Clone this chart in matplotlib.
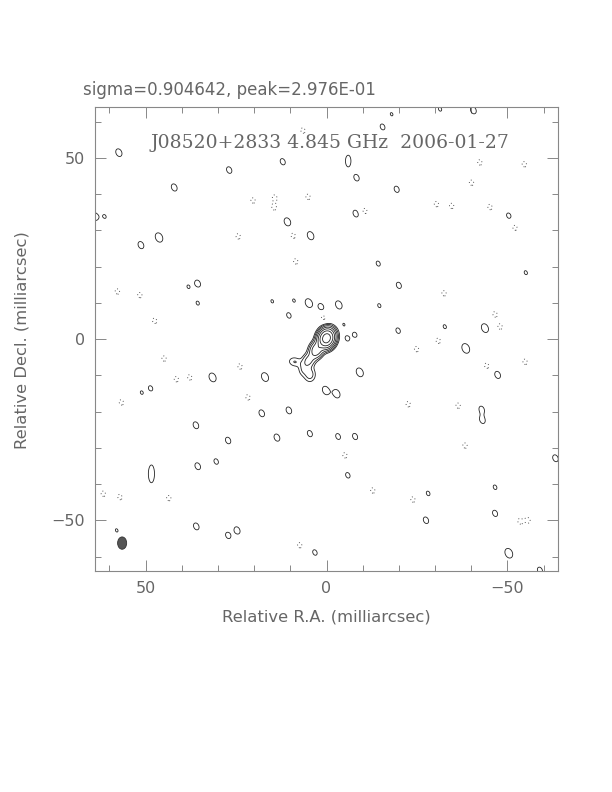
import numpy as np
import matplotlib
matplotlib.use("Agg")
import matplotlib.pyplot as plt
from matplotlib.patches import Ellipse
from matplotlib.ticker import MultipleLocator

# ---------------- data (mas, Jy/beam) ----------------
title_text = "sigma=0.904642, peak=2.976E-01"
map_label = "J08520+2833 4.845 GHz  2006-01-27"
xlabel = "Relative R.A. (milliarcsec)"
ylabel = "Relative Decl. (milliarcsec)"
peak = 0.2976
lowest_level = 0.0027
level_factors = [1, 2, 4, 8, 16, 32, 64]

# source model components: x, y, amplitude, sigma major, sigma minor, PA (deg)
src_x = [0.0, 2.8, 5.0, 8.8, 4.6, 6.5]
src_y = [0.2, -3.0, -6.0, -6.3, -9.8, -8.5]
src_amp = [0.262, 0.038, 0.014, 0.0055, 0.0075, 0.0045]
src_smaj = [1.4, 1.35, 1.35, 1.2, 1.35, 1.2]
src_smin = [1.15, 1.05, 1.05, 0.9, 1.05, 0.9]
src_pa = [-20, -20, -30, 80, 0, 0]

# positive noise peaks
pos_x = [57.4, 26.9, 42.1, 46.3, 51.3, 64.0, 61.3, 12.1, -8.3, -15.5, -19.4, -18.0,
         10.8, 4.4, -8.1, -14.3, -40.6, -31.4, -50.4, 35.6, 35.6, 31.5, 48.6, 51.1, 36.1,
         38.2, -43.8, -38.5, -47.3, -42.9, -43.1, -32.7, -55.1, 27.2, 35.6, 30.5,
         36.0, 27.2, 24.7, 58.0, 4.9, 1.5, -3.4, 10.4, -4.8, -5.7, -7.9, -14.6, -9.2,
         17.0, 0.2, -2.8, -50.4, 15.0, 9.0, 17.9, 13.7, 10.4, 4.6, -3.2, -7.9, -5.9,
         3.2, -28.1, -27.5, -46.6, -46.6, -63.3, -59.0, -20.0, -19.8]
pos_y = [51.4, 46.6, 41.8, 28.0, 25.9, 33.8, 33.8, 48.9, 44.5, 58.5, 41.3, 62.0,
         32.3, 28.5, 34.6, 20.8, 63.1, 63.4, 34.0, 15.3, 9.9, -10.6, -13.6, -14.8, -23.8,
         14.4, 3.0, -2.6, -9.9, -19.4, -22.4, 3.4, 18.3, -28.0, -35.1, -33.8,
         -51.7, -54.2, -52.8, -52.8, 9.9, 8.8, 9.4, 6.5, 4.0, 0.1, 1.2, 9.2, -9.2,
         -10.5, -14.2, -15.1, -59.1, 10.4, 10.6, -20.5, -27.2, -19.7, -26.1, -26.9, -26.9, -37.6,
         -58.9, -42.6, -50.0, -40.9, -48.1, -32.9, -63.8, 14.8, 2.3]
pos_amp = [0.0040, 0.0036, 0.0038, 0.0048, 0.0038, 0.0040, 0.0029, 0.0035, 0.0036,
           0.0034, 0.0035, 0.0029, 0.0042, 0.0042, 0.0037, 0.0032, 0.0038, 0.0030, 0.0033,
           0.0037, 0.0030, 0.0045, 0.0032, 0.0029, 0.0037, 0.0029, 0.0045, 0.0050, 0.0038,
           0.0035, 0.0036, 0.0030, 0.0030, 0.0036, 0.0037, 0.0033, 0.0037, 0.0035,
           0.0038, 0.0029, 0.0045, 0.0038, 0.0042, 0.0033, 0.0028, 0.0031, 0.0031, 0.0030,
           0.0045, 0.0045, 0.0043, 0.0043, 0.0050, 0.0029, 0.0029, 0.0037, 0.0038, 0.0037,
           0.0035, 0.0034, 0.0035, 0.0033, 0.0033, 0.0031, 0.0036, 0.0031, 0.0035, 0.0037,
           0.0035, 0.0035, 0.0033]
# elongated positive features: x, y, amplitude, sigma major, sigma minor, PA
long_x = [48.4, -6.0]
long_y = [-37.2, 49.1]
long_amp = [0.0042, 0.0042]
long_smaj = [2.6, 1.7]
long_smin = [0.9, 0.8]
long_pa = [0, 0]

# negative noise peaks
neg_x = [24.4, 14.3, 14.5, 9.2, 5.1, -10.6, 8.5, 20.3, 6.5, -42.4, -40.1, -30.4, -34.6,
         -45.2, -52.1, -54.7, 51.6, 47.5, 44.9, 41.5, 37.8, 56.7, 23.9, 21.7, 57.8, -32.5,
         -46.6, -48.0, -44.3, -54.9, -36.4, -22.6, 57.1, 43.6, 0.9, 7.4, -5.1, -12.8,
         -23.9, -53.5, -55.7, -38.3, -30.9, -24.9, 61.7]
neg_y = [28.3, 39.0, 36.3, 28.5, 39.2, 35.3, 21.4, 38.2, 57.5, 48.7, 43.1, 37.2, 36.7,
         36.4, 30.7, 48.2, 12.1, 5.0, -5.4, -11.1, -10.6, -17.5, -7.6, -16.1, 13.1, 12.6,
         6.8, 3.4, -7.4, -6.3, -18.4, -18.0, -43.6, -43.9, 6.0, -56.9, -32.1, -41.8,
         -44.3, -50.3, -50.0, -29.4, -0.5, -2.8, -42.7]
neg_amp = -0.0034

# restoring beam (FWHM, mas) and position of its drawing
beam_w, beam_h, beam_pa = 2.5, 3.4, 0
beam_x, beam_y = 56.5, -56.3

# ---------------- build the map ----------------
xs = np.arange(-66, 66.001, 0.125)
X, Y = np.meshgrid(xs, xs)
Z = np.zeros_like(X)


def add_gauss(Z, x0, y0, amp, smaj, smin, pa):
    t = np.radians(pa)
    dx = X - x0
    dy = Y - y0
    a = dx * np.sin(t) + dy * np.cos(t)
    b = dx * np.cos(t) - dy * np.sin(t)
    Z += amp * np.exp(-0.5 * ((a / smaj) ** 2 + (b / smin) ** 2))


for i in range(len(src_x)):
    add_gauss(Z, src_x[i], src_y[i], src_amp[i], src_smaj[i], src_smin[i], src_pa[i])
for i in range(len(pos_x)):
    add_gauss(Z, pos_x[i], pos_y[i], pos_amp[i], 1.25, 0.9, 25)
for i in range(len(long_x)):
    add_gauss(Z, long_x[i], long_y[i], long_amp[i], long_smaj[i], long_smin[i], long_pa[i])
for i in range(len(neg_x)):
    add_gauss(Z, neg_x[i], neg_y[i], neg_amp, 1.1, 0.85, 20)

# ---------------- plot ----------------
fig = plt.figure(figsize=(6.12, 7.92), dpi=100)
ax = fig.add_axes([95 / 612, 1 - 571 / 792, 463 / 612, 464 / 792])

pos_levels = [lowest_level * f for f in level_factors]
ax.contour(X, Y, Z, levels=pos_levels, colors="#222222", linewidths=0.6)
ax.contour(X, Y, Z, levels=[-lowest_level], colors="#555555", linewidths=0.7,
           linestyles=[(0, (1, 2.5))])

ax.add_patch(Ellipse((beam_x, beam_y), beam_w, beam_h, angle=beam_pa,
                     facecolor="#555555", edgecolor="#333333", lw=0.6))

ax.set_xlim(64, -64)
ax.set_ylim(-64, 64)
ax.xaxis.set_major_locator(MultipleLocator(50))
ax.yaxis.set_major_locator(MultipleLocator(50))
ax.xaxis.set_minor_locator(MultipleLocator(10))
ax.yaxis.set_minor_locator(MultipleLocator(10))
ax.tick_params(which="both", direction="in", top=True, right=True, color="#888888",
               width=0.7, labelcolor="#666666", labelsize=11.5)
ax.tick_params(which="major", length=8, pad=7)
ax.tick_params(which="minor", length=4)
for s in ax.spines.values():
    s.set_color("#888888")
    s.set_linewidth(0.8)

ax.text(0.508, 0.922, map_label, transform=ax.transAxes, ha="center", va="center",
        family="DejaVu Serif", fontsize=13.5, color="#666666")

fig.text(83 / 612, 1 - 90 / 792, title_text, ha="left", va="center",
         fontsize=12, color="#666666")
fig.text(326.5 / 612, 1 - 617 / 792, xlabel, ha="center", va="center",
         fontsize=11.8, color="#666666")
fig.text(22 / 612, 1 - 340 / 792, ylabel, ha="center", va="center", rotation=90,
         fontsize=11.8, color="#666666")

fig.savefig("out.png", dpi=100)
